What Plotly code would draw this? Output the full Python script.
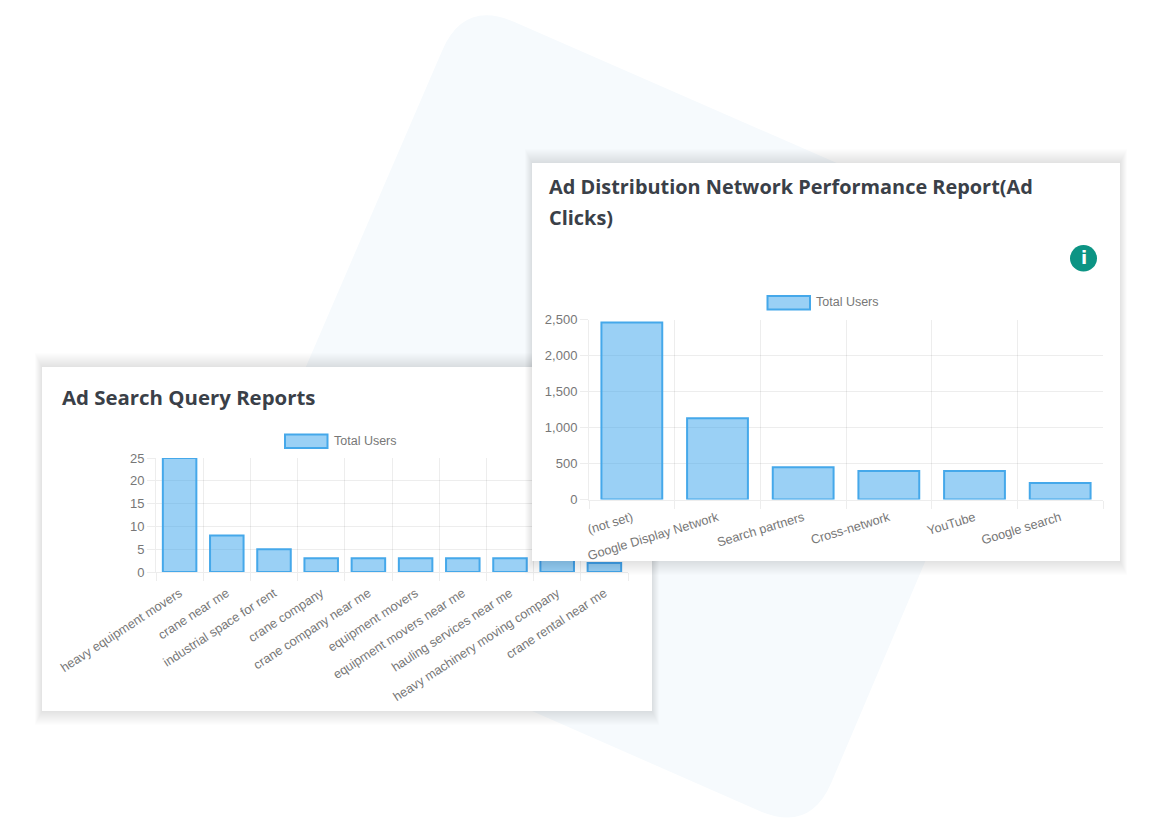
import plotly.graph_objects as go

# ---- data ----
query_labels = ["heavy equipment movers", "crane near me", "industrial space for rent",
                "crane company", "crane company near me", "equipment movers",
                "equipment movers near me", "hauling services near me",
                "heavy machinery moving company", "crane rental near me"]
query_users = [25, 8, 5, 3, 3, 3, 3, 3, 3, 2]

network_labels = ["(not set)", "Google Display Network", "Search partners",
                  "Cross-network", "YouTube", "Google search"]
network_users = [2460, 1130, 448, 397, 397, 230]

series_name = "Total Users"
title_query = "Ad Search Query Reports"
title_network_1 = "Ad Distribution Network Performance Report(Ad"
title_network_2 = "Clicks)"

# ---- layout constants (pixels) ----
W, H = 1172, 833
FILL = "rgba(54,162,235,0.5)"
EDGE = "#45a8ea"
GRID = "rgba(0,0,0,0.07)"
TICK = "#777777"
FONT = "Liberation Sans"
TITLE_FONT = "Open Sans"
TITLE_COLOR = "#3a4048"

P1 = (42, 367, 652, 711)
P2 = (532, 163, 1120, 561)
A1 = (156, 458, 628, 572)
A2 = (589, 319.5, 1103, 499.5)


def px(x): return x / W
def py(y): return 1 - y / H


def dom_x(a): return [px(a[0]), px(a[2])]
def dom_y(a): return [py(a[3]), py(a[1])]


def rounded_poly(corners, cut):
    out = []
    n = len(corners)
    for i, c in enumerate(corners):
        p, q = corners[i - 1], corners[(i + 1) % n]
        def toward(a, b):
            d = ((b[0]-a[0])**2 + (b[1]-a[1])**2) ** 0.5
            return (a[0] + (b[0]-a[0])*cut/d, a[1] + (b[1]-a[1])*cut/d)
        s, e = toward(c, p), toward(c, q)
        out.append(("M" if i == 0 else "L") + f"{px(s[0]):.5f},{py(s[1]):.5f}")
        out.append(f"Q{px(c[0]):.5f},{py(c[1]):.5f} {px(e[0]):.5f},{py(e[1]):.5f}")
    return " ".join(out) + " Z"


shapes = []
# pale rotated background tile
shapes.append(dict(type="path", xref="paper", yref="paper", layer="below",
                   path=rounded_poly([(464, 0), (1054, 258), (810, 833), (217, 573)], 55),
                   fillcolor="#f6fafd", line_width=0))


def shadow(panel, xref, yref, conv_x, conv_y, steps=14, alpha=0.008, layer="below"):
    items = []
    for i in range(steps, 0, -1):
        dx, dy = i * 0.5, i * 1.0
        items.append(dict(type="rect", xref=xref, yref=yref, layer=layer,
                          x0=conv_x(panel[0] - dx), x1=conv_x(panel[2] + dx),
                          y0=conv_y(panel[1] - dy), y1=conv_y(panel[3] + dy),
                          fillcolor=f"rgba(0,0,0,{alpha})", line_width=0))
    items.append(dict(type="rect", xref=xref, yref=yref, layer=layer,
                      x0=conv_x(panel[0]), x1=conv_x(panel[2]),
                      y0=conv_y(panel[1]), y1=conv_y(panel[3]),
                      fillcolor="white", line_width=0))
    return items


shapes += shadow(P1, "paper", "paper", px, py)
# second card lives on a full-page helper subplot so it sits above the first chart
shapes += shadow(P2, "x2", "y2", lambda v: v, lambda v: v)

# legend swatches
for x0, y0 in [(285, 434.5), (767.5, 296)]:
    shapes.append(dict(type="rect", xref="paper", yref="paper", layer="above",
                       x0=px(x0), x1=px(x0 + 42.5), y0=py(y0), y1=py(y0 + 13.5),
                       fillcolor=FILL, line=dict(color=EDGE, width=2)))

# info icon
shapes.append(dict(type="circle", xref="paper", yref="paper", layer="above",
                   x0=px(1070), x1=px(1097), y0=py(245), y1=py(271.5),
                   fillcolor="#0c9484", line_width=0))

fig = go.Figure()
fig.add_trace(go.Bar(x=query_labels, y=query_users, name=series_name, xaxis="x", yaxis="y",
                     marker=dict(color=FILL, line=dict(color=EDGE, width=2)),
                     cliponaxis=False, showlegend=False))
fig.add_trace(go.Scatter(x=[None], y=[None], xaxis="x2", yaxis="y2", showlegend=False,
                         hoverinfo="skip"))
fig.add_trace(go.Bar(x=network_labels, y=network_users, name=series_name, xaxis="x3", yaxis="y3",
                     marker=dict(color=FILL, line=dict(color=EDGE, width=2)),
                     cliponaxis=False, showlegend=False))


def xaxis(a, angle, anchor, standoff):
    return dict(domain=dom_x(a), type="category", tickson="boundaries", dtick=1, anchor=anchor,
                showgrid=True, gridcolor=GRID, gridwidth=1, showline=True, linecolor=GRID,
                ticks="outside", ticklen=8, tickcolor=GRID, tickangle=angle,
                ticklabelstandoff=standoff,
                tickfont=dict(family=FONT, size=12.7, color=TICK), automargin=False,
                zeroline=False, fixedrange=True)


def yaxis(a, rng, dtick, fmt, anchor):
    return dict(domain=dom_y(a), range=rng, dtick=dtick, tickformat=fmt, anchor=anchor,
                showgrid=True, gridcolor=GRID, gridwidth=1, showline=True, linecolor=GRID,
                ticks="outside", ticklen=8, tickcolor=GRID,
                tickfont=dict(family=FONT, size=13, color=TICK), automargin=False,
                zeroline=False, fixedrange=True)


annotations = [
    dict(text=f"<b>{title_query}</b>", x=px(60), y=py(397), xanchor="left", yanchor="middle",
         font=dict(family=TITLE_FONT, size=20.4, color=TITLE_COLOR)),
    dict(text=f"<b>{title_network_1}</b>", x=px(547), y=py(186.5), xanchor="left", yanchor="middle",
         font=dict(family=TITLE_FONT, size=19.9, color=TITLE_COLOR)),
    dict(text=f"<b>{title_network_2}</b>", x=px(547), y=py(217.5), xanchor="left", yanchor="middle",
         font=dict(family=TITLE_FONT, size=19.9, color=TITLE_COLOR)),
    dict(text=series_name, x=px(332), y=py(440.5), xanchor="left", yanchor="middle",
         font=dict(family=FONT, size=12.5, color=TICK)),
    dict(text=series_name, x=px(814), y=py(302), xanchor="left", yanchor="middle",
         font=dict(family=FONT, size=12.5, color=TICK)),
    dict(text="<b>i</b>", x=px(1083.5), y=py(257.5), xanchor="center", yanchor="middle",
         font=dict(family="DejaVu Sans", size=18, color="white")),
]
for a in annotations:
    a.update(xref="paper", yref="paper", showarrow=False)

fig.update_layout(
    width=W, height=H, autosize=False,
    margin=dict(l=0, r=0, t=0, b=0, pad=0),
    paper_bgcolor="white", plot_bgcolor="rgba(0,0,0,0)",
    bargap=0.29, showlegend=False,
    shapes=shapes, annotations=annotations,
    xaxis=xaxis(A1, -33, "y", 8),
    yaxis=yaxis(A1, [0, 25], 5, "d", "x"),
    xaxis2=dict(domain=[0, 1], range=[0, W], visible=False, fixedrange=True, anchor="y2"),
    yaxis2=dict(domain=[0, 1], range=[H, 0], visible=False, fixedrange=True, anchor="x2"),
    xaxis3=xaxis(A2, -17, "y3", 5),
    yaxis3=yaxis(A2, [0, 2500], 500, ",d", "x3"),
)

fig.write_html("out.html", config={"displayModeBar": False},
               post_script="document.body.style.margin='0';document.body.style.overflow='hidden';")
